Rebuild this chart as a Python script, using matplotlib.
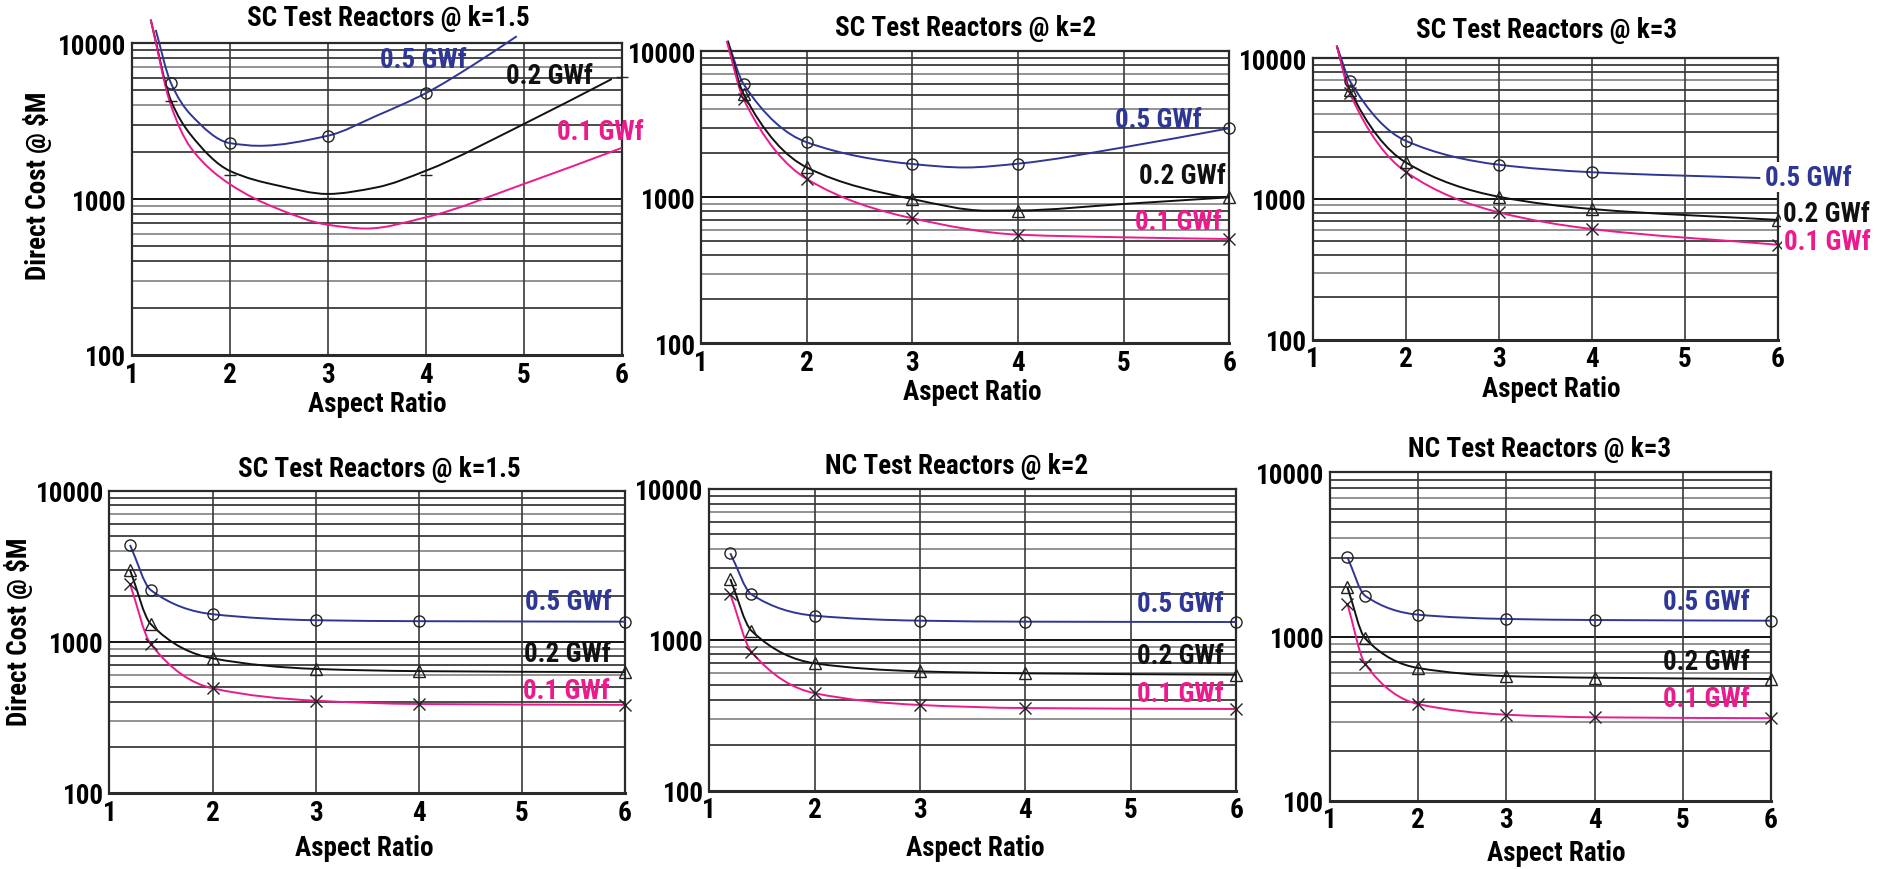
import numpy as np
import matplotlib
matplotlib.use("Agg")
import matplotlib.pyplot as plt
import matplotlib.font_manager as fm
from matplotlib.path import Path
from matplotlib.patches import PathPatch

# ---------------- data ----------------
titles = ["SC Test Reactors @ k=1.5", "SC Test Reactors @ k=2", "SC Test Reactors @ k=3",
          "SC Test Reactors @ k=1.5", "NC Test Reactors @ k=2", "NC Test Reactors @ k=3"]
series_names = ["0.5 GWf", "0.2 GWf", "0.1 GWf"]
x_ticks = [1, 2, 3, 4, 5, 6]
y_ticks = [100, 1000, 10000]
y_tick_labels = ["100", "1000", "10000"]

# panel 1 (SC k=1.5, top)
p1_c05_x = [1.245, 1.4, 1.6, 2.0, 2.3, 3.0, 3.5, 4.0, 4.5, 4.93]
p1_c05_y = [12200, 5560, 3500, 2290, 2200, 2550, 3430, 4780, 7360, 11100]
p1_c02_x = [1.194, 1.4, 1.6, 2.0, 2.5, 3.0, 3.5, 4.0, 5.0, 5.9]
p1_c02_y = [14200, 4300, 2600, 1520, 1220, 1080, 1190, 1520, 3030, 5900]
p1_c01_x = [1.194, 1.4, 1.6, 2.0, 2.5, 3.0, 3.4, 4.0, 5.0, 6.0]
p1_c01_y = [14200, 4000, 2150, 1250, 863, 685, 648, 764, 1250, 2130]
p1_m05_x = [1.4, 2, 3, 4]
p1_m05_y = [5560, 2290, 2550, 4780]
p1_m02_x = [1.4, 2, 3, 4, 6]
p1_m02_y = [4280, 1430, 1010, 1430, 6100]
p1_m01_x = []
p1_m01_y = []

# panel 2 (SC k=2)
p2_c05_x = [1.25, 1.4, 2, 3, 3.5, 4, 5, 6]
p2_c05_y = [11800, 5970, 2380, 1690, 1600, 1700, 2200, 2970]
p2_c02_x = [1.25, 1.4, 2, 3, 3.7, 4, 5, 6]
p2_c02_y = [11800, 5100, 1600, 973, 810, 812, 900, 1000]
p2_c01_x = [1.24, 1.4, 2, 3, 4, 5, 6]
p2_c01_y = [11800, 4710, 1334, 718, 555, 532, 518]
p2_m05_x = [1.4, 2, 3, 4, 6]
p2_m05_y = [5970, 2380, 1690, 1700, 2970]
p2_m02_x = [1.4, 2, 3, 4, 6]
p2_m02_y = [5100, 1600, 973, 810, 1000]
p2_m01_x = [1.4, 2, 3, 4, 6]
p2_m01_y = [4710, 1334, 718, 555, 518]

# panel 3 (SC k=3)
p3_c05_x = [1.26, 1.4, 2, 3, 4, 5.81]
p3_c05_y = [12300, 6930, 2595, 1753, 1550, 1410]
p3_c02_x = [1.26, 1.4, 2, 3, 4, 6]
p3_c02_y = [12300, 5980, 1824, 1038, 849, 710]
p3_c01_x = [1.26, 1.4, 2, 3, 4, 6]
p3_c01_y = [12300, 5670, 1563, 804, 612, 473]
p3_m05_x = [1.4, 2, 3, 4]
p3_m05_y = [6930, 2595, 1753, 1550]
p3_m02_x = [1.4, 2, 3, 4, 6]
p3_m02_y = [5980, 1824, 1038, 849, 710]
p3_m01_x = [1.4, 2, 3, 4, 6]
p3_m01_y = [5670, 1563, 804, 612, 473]

# bottom panels share aspect-ratio points
ar_bottom = [1.2, 1.4, 2, 3, 4, 6]
p4_05 = [4375, 2204, 1524, 1390, 1370, 1360]
p4_02 = [2990, 1313, 778, 662, 640, 630]
p4_01 = [2416, 968, 493, 408, 388, 383]
p5_05 = [3750, 2003, 1446, 1340, 1320, 1313]
p5_02 = [2530, 1150, 699, 618, 600, 587]
p5_01 = [2014, 834, 443, 370, 353, 348]
p6_05 = [3035, 1771, 1358, 1279, 1260, 1248]
p6_02 = [1995, 975, 643, 574, 561, 551]
p6_01 = [1578, 681, 388, 334, 322, 318]

# ---------------- style ----------------
W, H = 1893, 870
BLUE = "#2e3795"
PINK = "#ec1a8c"
BLACK = "#111111"
colors = [BLUE, BLACK, PINK]

names = {f.name for f in fm.fontManager.ttflist}
if "Liberation Sans Narrow" in names:
    FAM = ["Liberation Sans Narrow", "DejaVu Sans"]
    STRETCH = "normal"
    FS = 19
elif "Roboto Condensed" in names:
    FAM = ["Roboto Condensed", "DejaVu Sans"]
    STRETCH = "normal"
    FS = 19.5
else:
    FAM = ["DejaVu Sans"]
    STRETCH = "condensed"
    FS = 16
plt.rcParams["font.family"] = FAM
YFS = FS

fig = plt.figure(figsize=(W / 100, H / 100), dpi=100)
fig.patch.set_facecolor("white")

# axes boxes in pixels: left, right, top, bottom
boxes = [(131.7, 621.6, 44.3, 356.0), (701.3, 1229.2, 52.3, 344.3), (1312.5, 1778.0, 59.3, 340.7),
         (109.4, 625.0, 491.7, 794.0), (709.2, 1236.3, 490.0, 791.7), (1329.8, 1771.0, 473.3, 801.7)]
title_pos = [(388, 18), (966, 29), (1547, 30), (379, 470), (957, 467), (1540, 450)]
xlabel_pos = [(377, 405), (972, 393), (1551, 390), (364, 849), (975, 849), (1556, 854)]
ylabel_pos = [(38, 186), (19, 632)]
label_pos = [
    [(423, 60), (549, 77), (600, 133)],
    [(1158, 120), (1182, 177), (1178, 222)],
    [(1808, 178), (1826, 215), (1827, 243)],
    [(568, 603), (567, 655), (566, 692)],
    [(1180, 605), (1180, 657), (1180, 695)],
    [(1706, 603), (1706, 663), (1706, 700)],
]


def fx(px):
    return px / W


def fy(py):
    return 1 - py / H


def smooth_path(xs, ys):
    """Bezier (PCHIP-style) path through the given points, in x/log(y) space."""
    x = np.asarray(xs, float)
    ly = np.log10(np.asarray(ys, float))
    n = len(x)
    h = np.diff(x)
    d = np.diff(ly) / h
    m = np.zeros(n)
    m[0] = d[0]
    m[-1] = d[-1]
    for k in range(1, n - 1):
        if d[k - 1] * d[k] <= 0:
            m[k] = 0.0
        else:
            w1 = 2 * h[k] + h[k - 1]
            w2 = h[k] + 2 * h[k - 1]
            m[k] = (w1 + w2) / (w1 / d[k - 1] + w2 / d[k])
    verts = [(x[0], ly[0])]
    codes = [Path.MOVETO]
    for k in range(n - 1):
        verts += [(x[k] + h[k] / 3, ly[k] + m[k] * h[k] / 3),
                  (x[k + 1] - h[k] / 3, ly[k + 1] - m[k + 1] * h[k] / 3),
                  (x[k + 1], ly[k + 1])]
        codes += [Path.CURVE4] * 3
    v = np.array(verts)
    v[:, 1] = 10 ** v[:, 1]
    return Path(v, codes)


curves = [
    [(p1_c05_x, p1_c05_y), (p1_c02_x, p1_c02_y), (p1_c01_x, p1_c01_y)],
    [(p2_c05_x, p2_c05_y), (p2_c02_x, p2_c02_y), (p2_c01_x, p2_c01_y)],
    [(p3_c05_x, p3_c05_y), (p3_c02_x, p3_c02_y), (p3_c01_x, p3_c01_y)],
    [(ar_bottom, p4_05), (ar_bottom, p4_02), (ar_bottom, p4_01)],
    [(ar_bottom, p5_05), (ar_bottom, p5_02), (ar_bottom, p5_01)],
    [(ar_bottom, p6_05), (ar_bottom, p6_02), (ar_bottom, p6_01)],
]
marks = [
    [(p1_m05_x, p1_m05_y, "o"), (p1_m02_x, p1_m02_y, "_"), (p1_m01_x, p1_m01_y, "x")],
    [(p2_m05_x, p2_m05_y, "o"), (p2_m02_x, p2_m02_y, "^"), (p2_m01_x, p2_m01_y, "x")],
    [(p3_m05_x, p3_m05_y, "o"), (p3_m02_x, p3_m02_y, "^"), (p3_m01_x, p3_m01_y, "x")],
    [(ar_bottom, p4_05, "o"), (ar_bottom, p4_02, "^"), (ar_bottom, p4_01, "x")],
    [(ar_bottom, p5_05, "o"), (ar_bottom, p5_02, "^"), (ar_bottom, p5_01, "x")],
    [(ar_bottom, p6_05, "o"), (ar_bottom, p6_02, "^"), (ar_bottom, p6_01, "x")],
]

minor_vals = [v * s for s in (100, 1000) for v in range(2, 10)]

for i, (l, r, t, b) in enumerate(boxes):
    ax = fig.add_axes([fx(l), fy(b), (r - l) / W, (b - t) / H])
    ax.set_yscale("log")
    ax.set_xlim(1, 6)
    ax.set_ylim(100, 10000)
    ax.set_xticks(x_ticks)
    ax.set_xticklabels([str(v) for v in x_ticks])
    ax.set_yticks(y_ticks)
    ax.set_yticklabels(y_tick_labels)
    ax.minorticks_off()
    ax.tick_params(length=0, labelsize=FS, pad=4)
    for lab in ax.get_xticklabels() + ax.get_yticklabels():
        lab.set_fontweight("bold")
        lab.set_fontstretch(STRETCH)
    # grid
    for k, v in enumerate(minor_vals):
        ax.axhline(v, color="#3c3c3c" if k % 3 != 1 else "#8a8a8a", lw=1.3, zorder=1)
    ax.axhline(1000, color="#111111", lw=1.4, zorder=1)
    for xv in x_ticks[1:-1]:
        ax.axvline(xv, color="#3a3a3a", lw=1.2, zorder=1)
    for sp in ax.spines.values():
        sp.set_color("#2a2a2a")
        sp.set_linewidth(1.6)
    ax.spines["bottom"].set_linewidth(2.2)

    # curves
    for (cx, cy), col in zip(curves[i], colors):
        pp = PathPatch(smooth_path(cx, cy), facecolor="none", edgecolor=col, lw=1.4,
                       transform=ax.transData, zorder=3, clip_on=False)
        ax.add_patch(pp)
    # markers
    for mx, my, mk in marks[i]:
        if len(mx) == 0:
            continue
        if mk in ("o", "^"):
            ax.plot(mx, my, ls="none", marker=mk, ms=8, mfc="none", mec="#222222", mew=1.0,
                    zorder=4, clip_on=False)
        else:
            ax.plot(mx, my, ls="none", marker=mk, ms=9, mec="#222222", mew=1.0,
                    zorder=4, clip_on=False)

    # series labels
    for (px, py), name, col in zip(label_pos[i], series_names, colors):
        kw = {}
        if i == 2:
            kw["bbox"] = dict(facecolor="white", edgecolor="none", pad=1.0)
        fig.text(fx(px), fy(py), name, color=col, fontsize=FS, fontweight="bold",
                 fontstretch=STRETCH, ha="center", va="center", zorder=10, **kw)

    tx, ty = title_pos[i]
    fig.text(fx(tx), fy(ty), titles[i], fontsize=FS, fontweight="bold", fontstretch=STRETCH,
             ha="center", va="center")
    lx, ly = xlabel_pos[i]
    fig.text(fx(lx), fy(ly), "Aspect Ratio", fontsize=FS, fontweight="bold", fontstretch=STRETCH,
             ha="center", va="center")

for (px, py) in ylabel_pos:
    fig.text(fx(px), fy(py), "Direct Cost @ $M", fontsize=YFS, fontweight="bold",
             fontstretch=STRETCH, rotation=90, ha="center", va="center")

fig.savefig("out.png", dpi=100, facecolor="white")
